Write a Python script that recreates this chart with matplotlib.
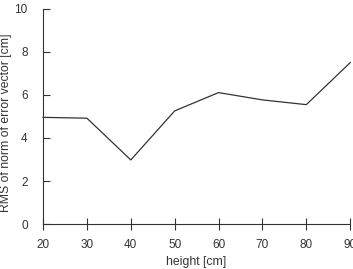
import matplotlib
matplotlib.use("Agg")
import matplotlib.pyplot as plt

# 数据:高度 vs 误差向量范数的 RMS
height_cm = [20, 30, 40, 50, 60, 70, 80, 90]
rms_cm = [4.96, 4.92, 2.98, 5.26, 6.11, 5.77, 5.55, 7.5]
x_ticks = [20, 30, 40, 50, 60, 70, 80, 90]
y_ticks = [0, 2, 4, 6, 8, 10]

plt.rcParams["font.family"] = ["Liberation Sans", "DejaVu Sans"]
dark = "#333333"

fig = plt.figure(figsize=(3.53, 2.69), dpi=100)
ax = fig.add_axes([0.122, 0.167, 0.870, 0.800])
ax.plot(height_cm, rms_cm, color=dark, linewidth=0.9, clip_on=False)

ax.set_xlim(20, 90)
ax.set_ylim(0, 10)
ax.set_xticks(x_ticks)
ax.set_yticks(y_ticks)
ax.set_xlabel("height [cm]", fontsize=8.8, color=dark, labelpad=4)
ax.set_ylabel("RMS of norm of error vector [cm]", fontsize=8.8, color=dark)
ax.yaxis.set_label_coords(-0.1, 0.47)

for side in ("top", "right"):
    ax.spines[side].set_visible(False)
for side in ("left", "bottom"):
    ax.spines[side].set_color(dark)
    ax.spines[side].set_linewidth(0.8)

ax.tick_params(axis="x", direction="inout", length=9, width=0.8, colors=dark,
               labelsize=8.5, pad=6)
ax.tick_params(axis="y", direction="in", length=5, width=0.8, colors=dark,
               labelsize=8.5, pad=11)

fig.savefig("out.png", dpi=100)
